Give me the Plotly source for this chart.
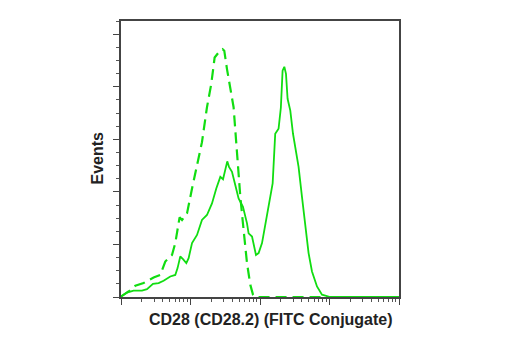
import numpy as np
import plotly.graph_objects as go

# x positions in decades (log10 of fluorescence intensity), y in events
solid_log_x = [0, 0.086, 0.181, 0.302, 0.374, 0.460, 0.541, 0.613, 0.709, 0.781, 0.814,
               0.853, 0.892, 0.940, 0.973, 1.022, 1.094, 1.165, 1.237, 1.309, 1.371,
               1.429, 1.468, 1.501, 1.529, 1.554, 1.597, 1.645, 1.692, 1.755, 1.813,
               1.836, 1.885, 1.942, 1.980, 2.029, 2.086, 2.148, 2.182, 2.219, 2.267,
               2.300, 2.325, 2.350, 2.374, 2.397, 2.436, 2.475, 2.518, 2.555, 2.604,
               2.652, 2.699, 2.748, 2.820, 2.892, 2.964, 3.01, 3.5, 4.0]
solid_y = [0.2, 1.7, 2.4, 2.4, 3.0, 5.0, 5.3, 6.2, 7.8, 8.4, 11.0,
           15.4, 14.4, 12.9, 14.8, 20.5, 23.6, 29.3, 31.2, 35.6, 41.3,
           45.7, 44.8, 48.9, 51.6, 49.5, 47.6, 42.5, 37.5, 34.3, 28.0,
           24.2, 23.0, 16.0, 16.7, 20.5, 29.3, 38.1, 43.2, 62.1, 64.0,
           72.0, 86.1, 87.6, 84.9, 75.4, 70.9, 62.1, 55.8, 49.5, 38.1,
           26.7, 16.7, 9.7, 4.0, 0.9, 0.2, 0, 0, 0]

dashed_log_x = [0, 0.109, 0.206, 0.325, 0.469, 0.565, 0.637, 0.734, 0.781, 0.843,
                0.878, 0.950, 1.022, 1.094, 1.165, 1.237, 1.299, 1.347, 1.404, 1.462,
                1.486, 1.525, 1.573, 1.620, 1.645, 1.683, 1.717, 1.764, 1.813, 1.860,
                1.899, 1.932, 2.5, 3.0, 3.5, 4.0]
dashed_y = [0.2, 2.1, 4.3, 5.3, 7.4, 8.4, 13.5, 16.0, 20.5, 30.3,
            29.3, 31.8, 41.3, 50.8, 58.9, 72.2, 81.1, 91.1, 93.0, 94.3,
            93.7, 86.7, 79.8, 72.2, 63.4, 49.5, 38.1, 25.5, 12.9, 4.7,
            0.9, 0, 0, 0, 0, 0]

major_x_ticks = [1, 10, 100, 1000, 10000]
minor_x_ticks = [m * 10 ** e for e in range(4) for m in range(2, 10)]

x_title = "CD28 (CD28.2) (FITC Conjugate)"
y_title = "Events"

green = "rgb(17,221,17)"
font_family = "Liberation Sans, Arial, sans-serif"

fig = go.Figure()
fig.add_trace(go.Scatter(x=np.power(10.0, dashed_log_x), y=dashed_y, mode="lines",
                         line=dict(color=green, width=2.2, dash="11px,6px"),
                         hoverinfo="skip"))
fig.add_trace(go.Scatter(x=np.power(10.0, solid_log_x), y=solid_y, mode="lines",
                         line=dict(color=green, width=1.8),
                         hoverinfo="skip"))

axis_common = dict(showgrid=False, zeroline=False, showline=True, mirror=True,
                   linecolor="#444", linewidth=1.5, showticklabels=False,
                   ticks="outside", ticklen=6, tickwidth=1.2, tickcolor="#444")

fig.update_xaxes(type="log", range=[0, 4], tickmode="array", tickvals=major_x_ticks,
                 minor=dict(tickmode="array", tickvals=minor_x_ticks, ticks="outside",
                            ticklen=3, tickwidth=1, tickcolor="#555"),
                 **axis_common)
fig.update_yaxes(range=[0, 105], tickmode="linear", tick0=0, dtick=20,
                 minor=dict(tickmode="linear", tick0=0, dtick=5, ticks="outside",
                            ticklen=3, tickwidth=1, tickcolor="#555"),
                 **axis_common)

fig.add_annotation(text=f"<b>{x_title}</b>", xref="paper", yref="paper",
                   x=0.54, y=-0.042, xanchor="center", yanchor="top", showarrow=False,
                   font=dict(family=font_family, size=16, color="#222"))
fig.add_annotation(text=f"<b>{y_title}</b>", xref="paper", yref="paper",
                   x=-0.083, y=0.505, xanchor="center", yanchor="middle", showarrow=False,
                   textangle=-90,
                   font=dict(family=font_family, size=16, color="#222"))

fig.update_layout(width=520, height=350, showlegend=False,
                  margin=dict(l=121, r=121, t=21, b=53),
                  paper_bgcolor="white", plot_bgcolor="white")

fig.write_html("out.html")
